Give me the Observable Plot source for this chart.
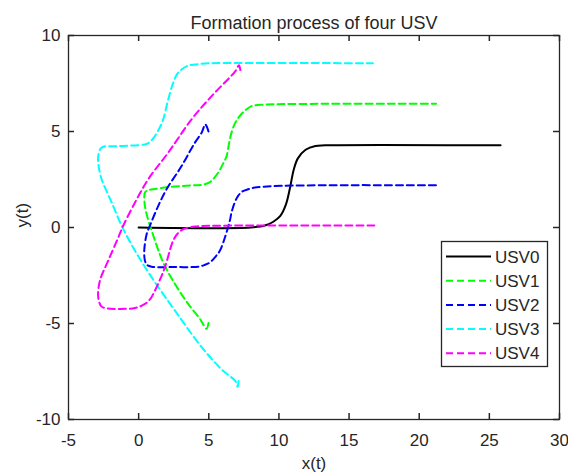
<!DOCTYPE html>
<html>
<head>
<meta charset="utf-8">
<script src="https://cdn.jsdelivr.net/npm/d3@7"></script>
<script src="https://cdn.jsdelivr.net/npm/@observablehq/plot@0.6"></script>
<style>
  html, body { margin: 0; padding: 0; background: #fff; }
  #chart { width: 568px; height: 475px; }
</style>
</head>
<body>
<div id="chart"></div>
<script>
// Trajectories of the leader (USV0) and four followers in the x–y plane.
const seriesNames = ["USV0", "USV1", "USV2", "USV3", "USV4"];
const seriesColors = ["#000000", "#00ff00", "#0000ff", "#00ffff", "#ff00ff"];

const usv0X = [0, 8.0, 9.0, 9.6, 10.1, 10.5, 10.8, 11.05, 11.35, 11.9, 12.6, 13.3, 25.8];
const usv0Y = [0, 0, 0.1, 0.3, 0.6, 1.2, 2.1, 3.0, 3.6, 4.05, 4.25, 4.28, 4.28];

const usv1X = [4.98, 4.84, 4.56, 4.37, 3.53, 2.59, 1.75, 0.93, 0.68, 0.5, 0.42, 0.45, 0.7, 1.04, 2.11, 4.0, 4.5, 5.08, 5.67, 6.0, 6.27, 6.45, 6.62, 6.85, 7.2, 7.6, 8.05, 9.0, 10.5, 21.2];
const usv1Y = [-4.97, -5.28, -4.99, -4.76, -3.98, -2.94, -1.82, -0.17, 0.4, 0.9, 1.3, 1.82, 1.95, 1.99, 2.11, 2.2, 2.22, 2.36, 2.86, 3.3, 3.72, 4.4, 4.94, 5.4, 5.8, 6.1, 6.32, 6.4, 6.43, 6.44];

const usv2X = [4.98, 4.75, 4.5, 4.01, 3.06, 1.99, 1.4, 0.8, 0.57, 0.4, 0.45, 0.6, 0.93, 2.5, 4.25, 4.7, 5.08, 5.5, 5.79, 6.15, 6.5, 6.62, 6.85, 7.09, 7.4, 7.8, 8.28, 9.5, 12.9, 21.2];
const usv2Y = [5.0, 5.37, 4.95, 4.42, 3.2, 1.99, 1.13, 0.09, -0.35, -1.21, -1.73, -1.95, -2.04, -2.06, -2.04, -1.95, -1.82, -1.5, -1.21, -0.52, 0.35, 0.78, 1.3, 1.65, 1.88, 1.99, 2.08, 2.15, 2.2, 2.2];

const usv3X = [7.12, 7.06, 6.9, 6.0, 4.49, 2.59, 0.93, -0.26, -1.21, -1.92, -2.35, -2.64, -2.85, -2.88, -2.64, -1.45, 0.45, 0.8, 1.16, 1.5, 1.75, 2.11, 2.46, 2.75, 3.06, 3.5, 4.01, 5.0, 16.7];
const usv3Y = [-8.0, -8.3, -8.0, -7.45, -6.23, -4.33, -2.6, -1.21, 0.09, 1.3, 2.0, 2.51, 3.2, 3.72, 4.16, 4.24, 4.33, 4.45, 4.76, 5.2, 5.63, 6.67, 7.53, 8.0, 8.23, 8.42, 8.49, 8.55, 8.55];

const usv4X = [7.25, 7.15, 6.9, 5.2, 3.77, 2.11, 0.68, -0.26, -1.1, -1.45, -2.17, -2.76, -2.88, -2.64, -2.2, -1.69, -0.26, 0.45, 0.85, 1.16, 1.5, 1.87, 2.46, 2.8, 3.18, 4.01, 5.5, 16.8];
const usv4Y = [8.2, 8.45, 8.15, 6.84, 5.63, 3.9, 2.51, 1.3, 0.09, -0.52, -1.73, -2.77, -3.64, -4.12, -4.22, -4.24, -4.19, -3.98, -3.7, -3.29, -2.75, -2.08, -0.69, -0.3, -0.09, 0.05, 0.09, 0.1];

const xDomain = [-5, 30];
const yDomain = [-10, 10];
const xTicks = [-5, 0, 5, 10, 15, 20, 25, 30];
const yTicks = [-10, -5, 0, 5, 10];

const titleText = "Formation process of four USV";
const xLabel = "x(t)";
const yLabel = "y(t)";

// Long-format table: one row per sampled point, tagged with its series.
const xs = [usv0X, usv1X, usv2X, usv3X, usv4X];
const ys = [usv0Y, usv1Y, usv2Y, usv3Y, usv4Y];
const rows = seriesNames.flatMap((name, k) =>
  xs[k].map((x, i) => ({series: name, x, y: ys[k][i]}))
);

const W = 568, H = 475;
const margin = {top: 35, right: 9, bottom: 56, left: 68};
const axisColor = "#262626";
const font = "'Liberation Sans', Arial, Helvetica, sans-serif";
const dash = "7,4";
const plainNumber = d => String(d); // ASCII hyphen for negatives

// Inward tick length, expressed in data units of each axis.
const tickPx = 6;
const xUnit = (xDomain[1] - xDomain[0]) / (W - margin.left - margin.right);
const yUnit = (yDomain[1] - yDomain[0]) / (H - margin.top - margin.bottom);
const tx = tickPx * xUnit, ty = tickPx * yUnit;
const tickStyle = {stroke: axisColor, strokeWidth: 1.5};

const chart = Plot.plot({
  width: W,
  height: H,
  marginLeft: margin.left,
  marginRight: margin.right,
  marginTop: margin.top,
  marginBottom: margin.bottom,
  style: {fontFamily: font, fontSize: "17px", color: axisColor, background: "#fff", overflow: "visible"},
  x: {domain: xDomain, label: null},
  y: {domain: yDomain, label: null},
  color: {domain: seriesNames, range: seriesColors},
  marks: [
    // tick labels
    Plot.axisX({ticks: xTicks, tickSize: 0, tickPadding: 14, tickFormat: plainNumber, label: null, fill: axisColor}),
    Plot.axisY({ticks: yTicks, tickSize: 0, tickPadding: 8, tickFormat: plainNumber, label: null, fill: axisColor}),
    // leader trajectory (solid)
    Plot.line(rows.filter(d => d.series === "USV0"), {
      x: "x", y: "y", stroke: "series", strokeWidth: 2, curve: "catmull-rom"
    }),
    // follower trajectories (dashed)
    Plot.line(rows.filter(d => d.series !== "USV0"), {
      x: "x", y: "y", z: "series", stroke: "series",
      strokeWidth: 2, strokeDasharray: dash, curve: "catmull-rom"
    }),
    // inward tick marks on all four sides
    Plot.ruleX(xTicks, {x: d => d, y1: yDomain[0], y2: yDomain[0] + ty, ...tickStyle}),
    Plot.ruleX(xTicks, {x: d => d, y1: yDomain[1], y2: yDomain[1] - ty, ...tickStyle}),
    Plot.ruleY(yTicks, {y: d => d, x1: xDomain[0], x2: xDomain[0] + tx, ...tickStyle}),
    Plot.ruleY(yTicks, {y: d => d, x1: xDomain[1], x2: xDomain[1] - tx, ...tickStyle}),
    Plot.frame({stroke: axisColor, strokeWidth: 1.3}),
    // title and axis labels
    Plot.text([titleText], {frameAnchor: "top", dy: -7, lineAnchor: "bottom", fontSize: 18, fill: axisColor}),
    Plot.text([xLabel], {frameAnchor: "bottom", dy: 49, lineAnchor: "bottom", fontSize: 17, fill: axisColor}),
    Plot.text([yLabel], {frameAnchor: "left", dx: -41, rotate: -90, lineAnchor: "bottom", fontSize: 17, fill: axisColor})
  ]
});

document.getElementById("chart").appendChild(chart);

// Legend box in the lower right of the axes.
const svg = d3.select(chart);
const lg = svg.append("g")
  .attr("font-family", font).attr("font-size", 17).attr("text-anchor", "start");
lg.append("rect")
  .attr("x", 441.5).attr("y", 241.5).attr("width", 106).attr("height", 125)
  .attr("fill", "#fff").attr("stroke", axisColor).attr("stroke-width", 1.3);
seriesNames.forEach((name, i) => {
  const cy = 256.5 + i * 24.2;
  lg.append("line")
    .attr("x1", 446).attr("x2", 491).attr("y1", cy).attr("y2", cy)
    .attr("stroke", seriesColors[i]).attr("stroke-width", 2)
    .attr("stroke-dasharray", i === 0 ? null : dash);
  lg.append("text")
    .attr("x", 495).attr("y", cy).attr("dy", "0.36em")
    .attr("text-anchor", "start")
    .attr("fill", axisColor).text(name);
});
</script>
</body>
</html>
